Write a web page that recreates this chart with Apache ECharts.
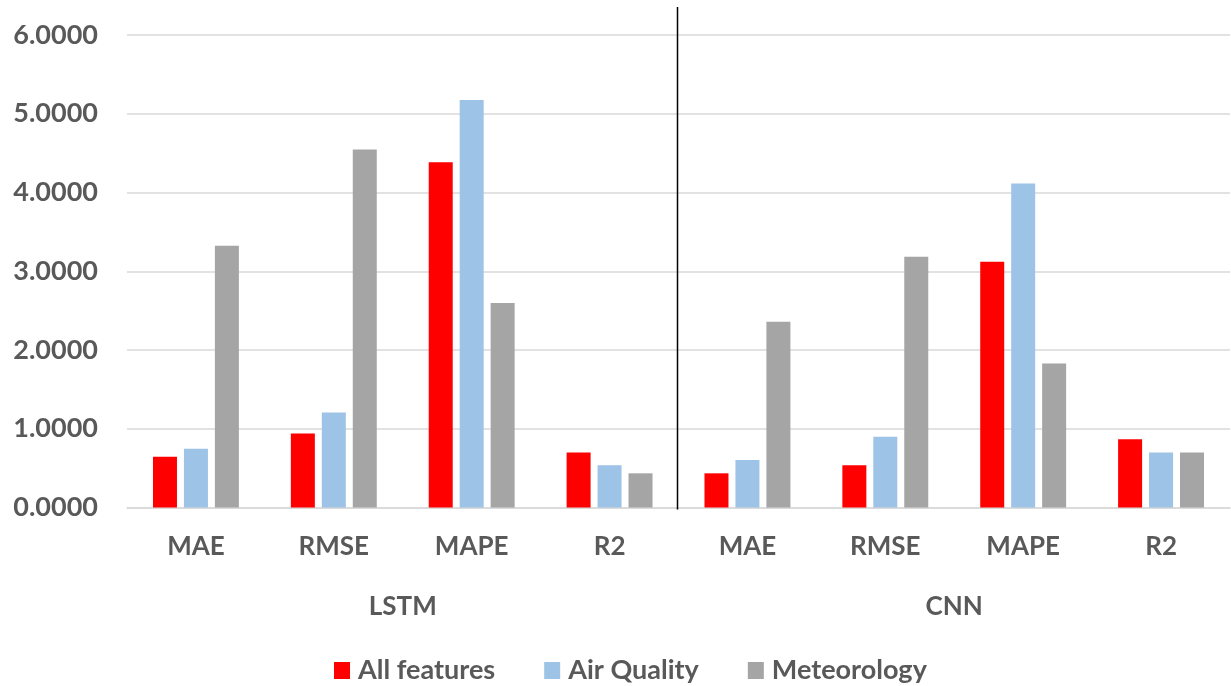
<!DOCTYPE html>
<html>
<head>
<meta charset="utf-8">
<title>LSTM vs CNN error metrics</title>
<script src="https://cdn.jsdelivr.net/npm/echarts@6/dist/echarts.min.js"></script>
<style>
  html, body { margin: 0; padding: 0; background: #ffffff; }
  #chart { width: 1231px; height: 686px; }
</style>
</head>
<body>
<div id="chart"></div>
<script>
// Metric categories, grouped by model
const metrics = ['MAE', 'RMSE', 'MAPE', 'R2', 'MAE', 'RMSE', 'MAPE', 'R2'];
const models = ['LSTM', 'CNN'];

// Series values (one per metric category)
const allFeatures = [0.643, 0.940, 4.385, 0.700, 0.434, 0.535, 3.120, 0.866];
const airQuality  = [0.745, 1.206, 5.175, 0.535, 0.603, 0.899, 4.114, 0.700];
const meteorology = [3.325, 4.547, 2.598, 0.434, 2.358, 3.183, 1.830, 0.700];

const seriesNames = ['All features', 'Air Quality', 'Meteorology'];
const seriesColors = ['#FF0000', '#9DC3E6', '#A5A5A5'];

const textColor = '#595959';
const fontFamily = 'Lato, "Open Sans", sans-serif';

const chart = echarts.init(document.getElementById('chart'), null, { renderer: 'canvas' });

function barSeries(name, data, color) {
  return {
    name: name,
    type: 'bar',
    data: data,
    barWidth: 24,
    barGap: '29%',
    itemStyle: { color: color },
    emphasis: { disabled: true }
  };
}

chart.setOption({
  animation: false,
  backgroundColor: '#ffffff',
  textStyle: { fontFamily: fontFamily },
  grid: { left: 127, right: 1, top: 35, bottom: 178.5, containLabel: false },
  legend: {
    left: 329,
    top: 652,
    itemWidth: 16,
    itemHeight: 17,
    itemGap: 49,
    icon: 'rect',
    textStyle: { color: textColor, fontSize: 27, fontWeight: 'bold', fontFamily: fontFamily, padding: [0, 0, 0, 3] },
    data: seriesNames
  },
  xAxis: [
    {
      type: 'category',
      data: metrics,
      axisLine: { show: true, lineStyle: { color: '#d9d9d9', width: 1.5 } },
      axisTick: { show: false },
      axisLabel: { color: textColor, fontSize: 26, fontWeight: 'bold', margin: 26, fontFamily: fontFamily },
      splitLine: { show: false }
    },
    {
      type: 'category',
      data: models,
      position: 'bottom',
      offset: 60,
      axisLine: { show: false },
      axisTick: { show: false },
      axisLabel: { color: textColor, fontSize: 26, fontWeight: 'bold', margin: 26, fontFamily: fontFamily },
      splitLine: { show: false }
    }
  ],
  yAxis: {
    type: 'value',
    min: 0,
    max: 6,
    interval: 1,
    axisLine: { show: false },
    axisTick: { show: false },
    axisLabel: {
      color: textColor,
      fontSize: 27,
      fontWeight: 'bold',
      margin: 29,
      fontFamily: fontFamily,
      formatter: function (v) { return v.toFixed(4); }
    },
    splitLine: { lineStyle: { color: '#d9d9d9', width: 1.5 } }
  },
  series: [
    barSeries(seriesNames[0], allFeatures, seriesColors[0]),
    barSeries(seriesNames[1], airQuality, seriesColors[1]),
    barSeries(seriesNames[2], meteorology, seriesColors[2])
  ]
});

// Vertical separator between the LSTM and CNN groups
const leftCenter = chart.convertToPixel({ xAxisIndex: 0 }, 3);
const rightCenter = chart.convertToPixel({ xAxisIndex: 0 }, 4);
const sepX = (leftCenter + rightCenter) / 2 - 1;
const baseY = chart.convertToPixel({ yAxisIndex: 0 }, 0);
chart.setOption({
  graphic: [{
    type: 'line',
    shape: { x1: sepX, y1: 7, x2: sepX, y2: baseY + 2 },
    style: { stroke: '#000000', lineWidth: 1.5 },
    silent: true,
    z: 10
  }]
});
</script>
</body>
</html>
